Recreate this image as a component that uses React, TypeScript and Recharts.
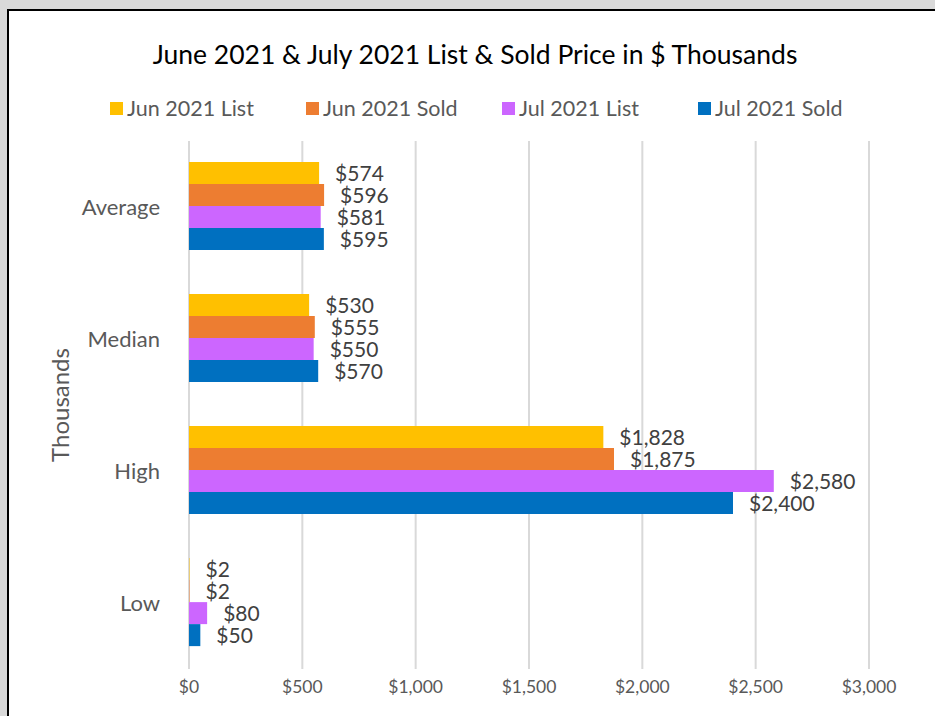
import React from "react";
import { BarChart, Bar, XAxis, YAxis, CartesianGrid, LabelList } from "recharts";

const categories = ["Average", "Median", "High", "Low"];
const jun2021List = [574, 530, 1828, 2];
const jun2021Sold = [596, 555, 1875, 2];
const jul2021List = [581, 550, 2580, 80];
const jul2021Sold = [595, 570, 2400, 50];
const xTicks = [0, 500, 1000, 1500, 2000, 2500, 3000];

const series = [
  { key: "junList", name: "Jun 2021 List", values: jun2021List, color: "#FFC000" },
  { key: "junSold", name: "Jun 2021 Sold", values: jun2021Sold, color: "#ED7D31" },
  { key: "julList", name: "Jul 2021 List", values: jul2021List, color: "#CC66FF" },
  { key: "julSold", name: "Jul 2021 Sold", values: jul2021Sold, color: "#0070C0" },
];

const data = categories.map((category, i) => {
  const row: Record<string, string | number> = { category };
  series.forEach(s => {
    row[s.key] = s.values[i];
  });
  return row;
});

const FONT = "Lato, 'Open Sans', sans-serif";
const money = (v: number) => "$" + v.toLocaleString("en-US");

const App = (): JSX.Element => {
  return (
    <div
      style={{
        position: "fixed",
        left: 0,
        top: 0,
        width: 935,
        height: 716,
        background: "#d9d9d9",
        overflow: "hidden",
        fontFamily: FONT,
      }}
    >
      <div
        style={{
          position: "absolute",
          left: 7,
          top: 9,
          width: 1000,
          height: 800,
          background: "#fff",
          border: "2px solid #000",
        }}
      />
      <div
        style={{
          position: "absolute",
          left: 0,
          width: 950,
          top: 38,
          textAlign: "center",
          fontSize: 26.5,
          color: "#000",
        }}
      >
        June 2021 &amp; July 2021 List &amp; Sold Price in $ Thousands
      </div>
      <div style={{ position: "absolute", left: 110, top: 95, display: "flex" }}>
        {series.map(s => (
          <div
            key={s.key}
            style={{ width: 196, display: "flex", alignItems: "center", fontSize: 21.5, color: "#595959" }}
          >
            <span style={{ width: 13, height: 13, background: s.color, marginRight: 4 }} />
            <span>{s.name}</span>
          </div>
        ))}
      </div>
      <div style={{ position: "absolute", left: 0, top: 0 }}>
        <BarChart
          width={935}
          height={716}
          data={data}
          layout="vertical"
          margin={{ top: 141, right: 66, bottom: 17, left: 0 }}
          barCategoryGap="16%"
          barGap={0}
        >
          <CartesianGrid horizontal={false} stroke="#d9d9d9" strokeWidth={2} />
          <XAxis
            type="number"
            domain={[0, 3000]}
            ticks={xTicks}
            tickFormatter={money}
            axisLine={false}
            tickLine={false}
            tickSize={0}
            tickMargin={12}
            height={30}
            tick={{ fill: "#595959", fontSize: 17.5, fontFamily: FONT }}
          />
          <YAxis
            type="category"
            dataKey="category"
            width={189}
            axisLine={false}
            tickLine={false}
            tickSize={0}
            tickMargin={29}
            tick={{ fill: "#595959", fontSize: 22, fontFamily: FONT }}
            label={{
              value: "Thousands",
              angle: -90,
              position: "insideLeft",
              offset: 60,
              style: { textAnchor: "middle", fill: "#595959", fontSize: 24, fontFamily: FONT },
            }}
          />
          {series.map(s => (
            <Bar key={s.key} dataKey={s.key} name={s.name} fill={s.color} isAnimationActive={false}>
              <LabelList
                dataKey={s.key}
                position="right"
                offset={16}
                formatter={(v: any) => money(Number(v))}
                style={{ fill: "#404040", fontSize: 21, fontFamily: FONT }}
              />
            </Bar>
          ))}
        </BarChart>
      </div>
    </div>
  );
};

export default App;
